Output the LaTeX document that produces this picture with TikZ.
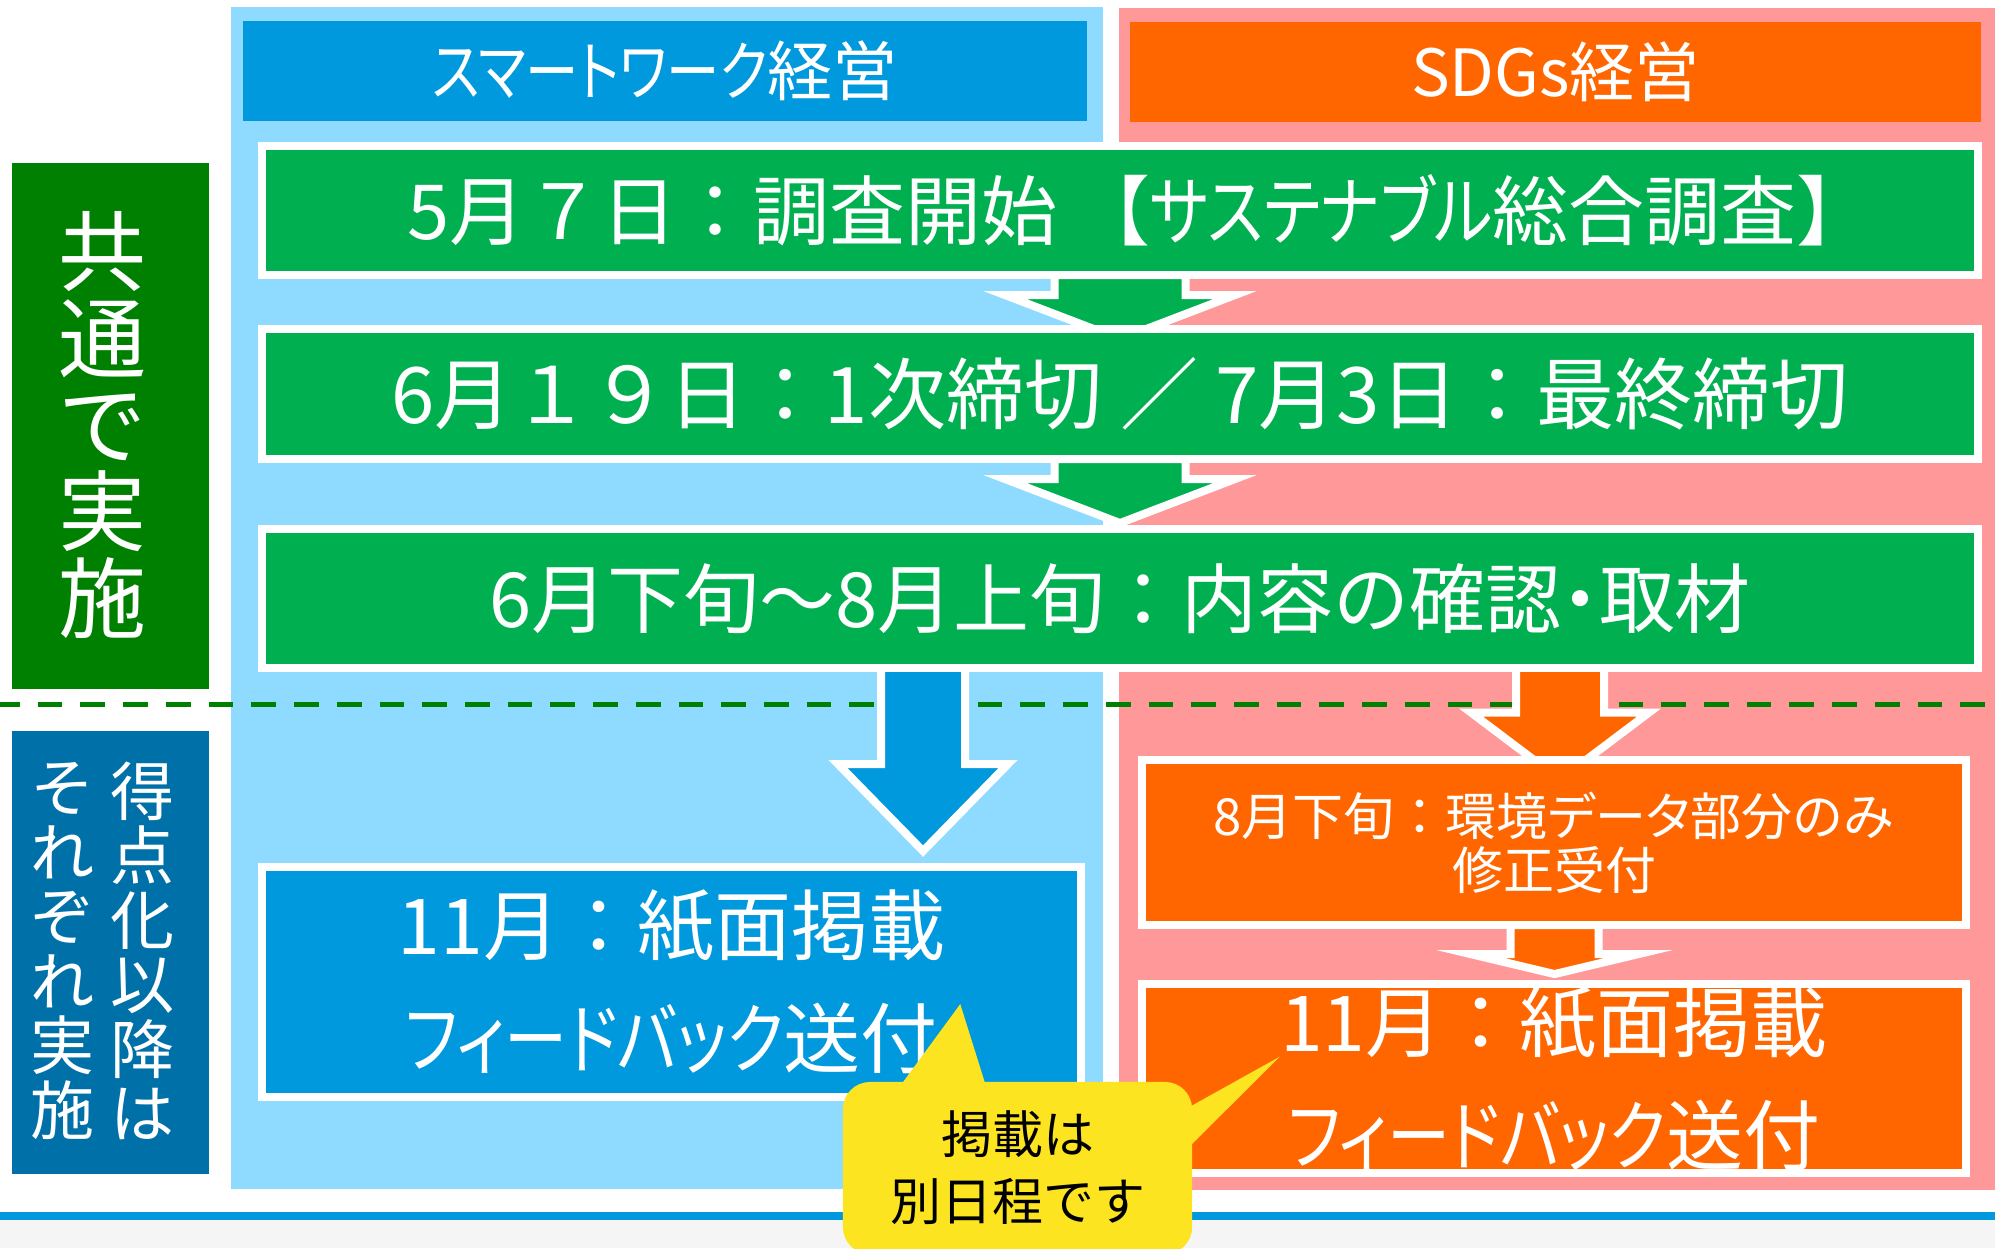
\documentclass[tikz,border=0pt]{standalone}
\usepackage{fontspec}
\usepackage{graphicx}
\setmainfont{Noto Sans CJK JP}
\newfontfamily\kana{Noto Sans CJK JP}[RawFeature=+palt]
\newcommand\kn[1]{\scalebox{0.82}[1]{\kana #1}}
\usetikzlibrary{calc}
\pgfdeclarelayer{back}
\pgfdeclarelayer{arrows}
\pgfsetlayers{back,arrows,main}
\lineskiplimit=-\maxdimen

\definecolor{skyback}{HTML}{8FDAFF}
\definecolor{pinkback}{HTML}{FF9999}
\definecolor{boxblue}{HTML}{0099DD}
\definecolor{boxorange}{HTML}{FF6600}
\definecolor{stepgreen}{HTML}{00B050}
\definecolor{darkgreen}{HTML}{008000}
\definecolor{darkblue}{HTML}{0070A8}
\definecolor{noteyellow}{HTML}{FCE421}
\definecolor{footgray}{HTML}{F5F5F5}

\tikzset{
  headbox/.style={inner sep=0, outer sep=0, minimum height=0.99cm, text=white,
    font=\fontsize{18.5}{22}\selectfont},
  stepbox/.style={draw=white, line width=0.08cm, fill=stepgreen, text=white,
    inner sep=0, outer sep=0, minimum width=17.155cm, font=\fontsize{21.6}{26}\selectfont},
  pubbox/.style={draw=white, line width=0.08cm, text=white, inner sep=0, outer sep=0,
    align=center, minimum width=8.22cm, font=\fontsize{21.9}{32.2}\selectfont},
  sidebox/.style={inner sep=0, minimum width=1.97cm, text=white, align=center},
  coltext/.style={inner sep=0, text=white, align=center, font=\fontsize{18.2}{18.35}\selectfont},
  blockarrow/.style={draw=white, line width=0.08cm},
}

\begin{document}
\begin{tikzpicture}[x=0.01cm, y=-0.01cm]
  \useasboundingbox (0,0) rectangle (1995,1248);
  \clip (0,0) rectangle (1995,1248);

  \begin{pgfonlayer}{back}
    \fill[footgray] (0,1220) rectangle (1995,1248);
    \fill[boxblue] (0,1211.5) rectangle (1995,1220);
    \fill[skyback] (230.5,7) rectangle (1103,1189);
    \fill[pinkback] (1119,8) rectangle (1995,1190);
    \draw[darkgreen, line width=0.057cm, dash pattern=on 0.247cm off 0.18cm, dash phase=0.05cm]
      (0,704.5) -- (1995,704.5);
  \end{pgfonlayer}

  % column heads
  \node[headbox, fill=boxblue, minimum width=8.44cm] (hsmart) at (665,71) {\kn{スマートワーク}経営};
  \node[headbox, fill=boxorange, minimum width=8.51cm] (hsdgs) at (1555.5,72) {SDGs経営};

  % side labels
  \node[sidebox, fill=darkgreen, minimum height=5.26cm] (common) at (110.5,426) {};
  \node[coltext, font=\fontsize{25}{24.6}\selectfont] (commontxt) at (102,425) {共\\通\\で\\実\\施};
  \node[sidebox, fill=darkblue, minimum height=4.43cm] (separate) at (110.5,952.5) {};
  \node[coltext] (sepright) at (142,951) {得\\点\\化\\以\\降\\は};
  \node[coltext] (sepleft) at (63,951) {そ\\れ\\ぞ\\れ\\実\\施};

  % common steps
  \node[stepbox, minimum height=1.29cm] (step1) at (1120,210.5)
    {\hspace*{0.4cm}5月７日：調査開始 【\kn{サステナブル}総合調査】};
  \node[stepbox, minimum height=1.30cm, font=\fontsize{22.2}{26}\selectfont] (step2) at (1120,394)
    {6月１９日：1次締切 ／ 7月3日：最終締切};
  \node[stepbox, minimum height=1.385cm] (step3) at (1120,598.25) {6月下旬～8月上旬：内容の確認{\kana ・}取材};

  % separate steps
  \node[pubbox, fill=boxblue, minimum width=8.19cm, minimum height=2.30cm] (pubsmart) at (671.5,982)
    {11月：紙面掲載\\\kn{フィードバック}送付};
  \node[pubbox, fill=boxorange, minimum width=8.24cm, minimum height=1.65cm,
    font=\fontsize{14.5}{15.4}\selectfont] (late1) at (1554,842.5) {8月下旬：環境{\kana データ}部分のみ\\修正受付};
  \node[pubbox, fill=boxorange, minimum width=8.24cm, minimum height=1.89cm] (pubsdgs) at (1554,1078.5)
    {11月：紙面掲載\\\kn{フィードバック}送付};

  \begin{pgfonlayer}{arrows}
    \foreach \a in {step1, step2}
      \draw[blockarrow, fill=stepgreen] ($(\a.south)+(-65.5,0)$) -- ++(0,20) -- ++(-49.5,0) -- ++(115,44)
        -- ++(115,-44) -- ++(-49.5,0) -- ++(0,-20) -- cycle;
    \draw[blockarrow, fill=boxblue] ($(step3.south)+(-239,0)$) -- ++(0,96.5) -- ++(-43,0) -- ++(85,87)
      -- ++(85,-87) -- ++(-43,0) -- ++(0,-96.5) -- cycle;
    \draw[blockarrow, fill=boxorange] ($(step3.south)+(396,0)$) -- ++(0,45) -- ++(-45,0) -- ++(89,67)
      -- ++(89,-67) -- ++(-45,0) -- ++(0,-45) -- cycle;
    \draw[blockarrow, fill=boxorange] ($(late1.south)+(-43.5,0)$) -- ++(0,29) -- ++(-40,0) -- ++(84,20)
      -- ++(84,-20) -- ++(-40,0) -- ++(0,-29) -- cycle;
  \end{pgfonlayer}

  % callout
  \node[fill=noteyellow, rounded corners=0.27cm, minimum width=3.49cm, minimum height=1.72cm, inner sep=0,
    align=center, font=\fontsize{14.5}{19.1}\selectfont] (note) at (1017.5,1168) {掲載は\\別日程です};
  \fill[noteyellow] ($(note.north west)+(58.5,4)$) -- ($(pubsmart.south east)+(-121,-93)$)
    -- ($(note.north west)+(143.5,4)$) -- cycle;
  \fill[noteyellow] ($(note.north east)+(-4,26)$) -- ($(pubsdgs.north west)+(138,72.7)$)
    -- ($(note.north east)+(-4,66)$) -- cycle;
\end{tikzpicture}
\end{document}
